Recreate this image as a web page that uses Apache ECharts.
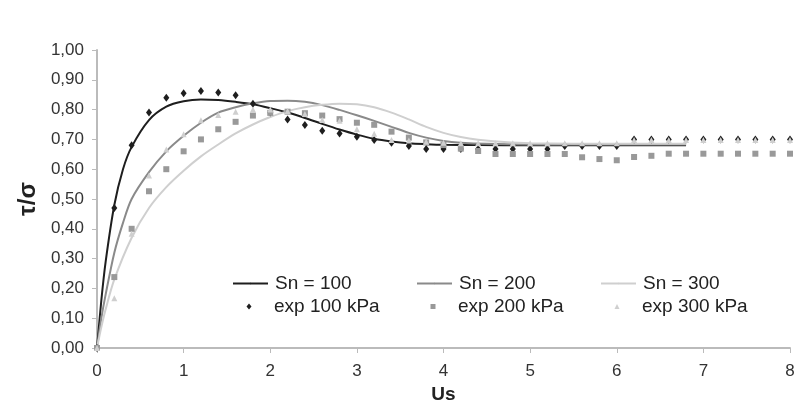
<!DOCTYPE html>
<html>
<head>
<meta charset="utf-8">
<script src="https://cdn.jsdelivr.net/npm/echarts@6/dist/echarts.min.js"></script>
<style>
  html, body { margin: 0; padding: 0; background: #fff; }
  #chart { width: 806px; height: 413px; }
</style>
</head>
<body>
<div id="chart"></div>
<script>
// experimental points, every 0.2 along Us
const expX = [0, 0.2, 0.4, 0.6, 0.8, 1.0, 1.2, 1.4, 1.6, 1.8, 2.0, 2.2, 2.4, 2.6, 2.8, 3.0, 3.2, 3.4, 3.6, 3.8,
  4.0, 4.2, 4.4, 4.6, 4.8, 5.0, 5.2, 5.4, 5.6, 5.8, 6.0, 6.2, 6.4, 6.6, 6.8, 7.0, 7.2, 7.4, 7.6, 7.8, 8.0];
const exp100 = [0, 0.47, 0.68, 0.79, 0.84, 0.855, 0.862, 0.857, 0.848, 0.82, 0.79, 0.767, 0.748, 0.729, 0.72, 0.709, 0.698, 0.689, 0.678, 0.668,
  0.668, 0.668, 0.668, 0.668, 0.668, 0.668, 0.668, 0.678, 0.678, 0.678, 0.678, 0.70, 0.70, 0.70, 0.70, 0.70, 0.70, 0.70, 0.70, 0.70, 0.70];
const exp200 = [0, 0.238, 0.40, 0.526, 0.60, 0.66, 0.70, 0.734, 0.759, 0.78, 0.789, 0.793, 0.788, 0.78, 0.768, 0.756, 0.749, 0.726, 0.706, 0.69,
  0.681, 0.669, 0.661, 0.651, 0.651, 0.651, 0.651, 0.651, 0.64, 0.634, 0.63, 0.641, 0.645, 0.652, 0.652, 0.652, 0.652, 0.652, 0.652, 0.652, 0.652];
const exp300 = [0, 0.167, 0.383, 0.579, 0.666, 0.717, 0.764, 0.782, 0.793, 0.80, 0.80, 0.795, 0.785, 0.765, 0.763, 0.734, 0.719, 0.698, 0.696, 0.692,
  0.689, 0.687, 0.687, 0.687, 0.687, 0.687, 0.687, 0.687, 0.687, 0.687, 0.687, 0.698, 0.698, 0.698, 0.698, 0.698, 0.698, 0.698, 0.698, 0.698, 0.698];

// model curves
const sn100X = [0, 0.05, 0.1, 0.2, 0.3, 0.4, 0.6, 0.8, 1.0, 1.2, 1.4, 1.6, 1.8, 2.0, 2.2, 2.4, 2.6, 2.8, 3.0, 3.2, 3.4, 3.6, 3.8, 4.0, 4.4, 5.0, 6.0, 6.8];
const sn100Y = [0, 0.16, 0.29, 0.48, 0.60, 0.675, 0.765, 0.81, 0.828, 0.834, 0.832, 0.826, 0.818, 0.805, 0.79, 0.772, 0.752, 0.733, 0.716, 0.702, 0.693, 0.687, 0.684, 0.682, 0.681, 0.68, 0.68, 0.68];
const sn200X = [0, 0.05, 0.1, 0.2, 0.3, 0.4, 0.6, 0.8, 1.0, 1.2, 1.4, 1.6, 1.8, 2.0, 2.2, 2.4, 2.6, 2.8, 3.0, 3.2, 3.4, 3.6, 3.8, 4.0, 4.2, 4.5, 5.0, 6.0, 6.8];
const sn200Y = [0, 0.10, 0.18, 0.32, 0.42, 0.50, 0.59, 0.66, 0.712, 0.756, 0.79, 0.808, 0.821, 0.829, 0.83, 0.826, 0.815, 0.799, 0.781, 0.762, 0.742, 0.722, 0.706, 0.695, 0.689, 0.685, 0.683, 0.683, 0.683];
const sn300X = [0, 0.05, 0.1, 0.2, 0.4, 0.6, 0.8, 1.0, 1.2, 1.4, 1.6, 1.8, 2.0, 2.2, 2.4, 2.6, 2.8, 3.0, 3.2, 3.4, 3.6, 3.8, 4.0, 4.2, 4.4, 4.7, 5.0, 6.0, 6.8];
const sn300Y = [0, 0.07, 0.13, 0.23, 0.37, 0.47, 0.54, 0.595, 0.643, 0.683, 0.72, 0.75, 0.775, 0.795, 0.808, 0.816, 0.82, 0.818, 0.808, 0.79, 0.767, 0.742, 0.722, 0.708, 0.699, 0.691, 0.687, 0.685, 0.685];

const xTicks = [0, 1, 2, 3, 4, 5, 6, 7, 8];
const yTicks = [0, 0.1, 0.2, 0.3, 0.4, 0.5, 0.6, 0.7, 0.8, 0.9, 1.0];

const FONT = '"Liberation Sans", Arial, sans-serif';

function pairs(xs, ys) {
  return xs.map((x, i) => [x, ys[i]]);
}

function lineSeries(name, xs, ys, color) {
  return {
    name: name,
    type: 'line',
    data: pairs(xs, ys),
    smooth: 0.3,
    showSymbol: false,
    symbol: 'none',
    lineStyle: { color: color, width: 2 },
    itemStyle: { color: color },
    z: 2
  };
}

function scatterSeries(name, ys, symbol, size, color) {
  return {
    name: name,
    type: 'scatter',
    data: pairs(expX, ys),
    symbol: symbol,
    symbolSize: size,
    itemStyle: { color: color, opacity: 1 },
    z: 3
  };
}

// line items: 35px sample line then text; marker items: small symbol centred under the line sample
function lineLegend(name, left, top) {
  return {
    data: [name],
    left: left,
    top: top,
    itemWidth: 35,
    itemHeight: 2,
    padding: 0,
    textStyle: { fontFamily: FONT, fontSize: 19, color: '#222', padding: [0, 0, 0, 2] },
    selectedMode: false
  };
}

function markLegend(name, left, top, w, h) {
  return {
    data: [name],
    left: left + 17 - w / 2,
    top: top,
    itemWidth: w,
    itemHeight: h,
    padding: 0,
    textStyle: { fontFamily: FONT, fontSize: 19, color: '#222', padding: [0, 0, 0, 20 - w / 2] },
    selectedMode: false
  };
}

let chart = echarts.init(document.getElementById('chart'));
chart.setOption({
  animation: false,
  backgroundColor: '#fff',
  grid: { left: 97, right: 16, top: 50, bottom: 65 },
  legend: [
    lineLegend('Sn = 100', 232, 274),
    lineLegend('Sn = 200', 416, 274),
    lineLegend('Sn = 300', 600, 274),
    markLegend('exp 100 kPa', 232, 297, 5, 6),
    markLegend('exp 200 kPa', 416, 297, 5, 5),
    markLegend('exp 300 kPa', 600, 297, 5, 5)
  ],
  xAxis: {
    type: 'value',
    min: xTicks[0],
    max: xTicks[xTicks.length - 1],
    interval: 1,
    name: 'Us',
    nameLocation: 'middle',
    nameGap: 36,
    nameTextStyle: { fontFamily: FONT, fontSize: 19, fontWeight: 'bold', color: '#222' },
    axisLine: { lineStyle: { color: '#bbb', width: 2 } },
    axisTick: { show: true, length: 5, lineStyle: { color: '#bbb' } },
    axisLabel: { fontFamily: FONT, fontSize: 17, color: '#333', margin: 15 },
    splitLine: { show: false }
  },
  yAxis: {
    type: 'value',
    min: yTicks[0],
    max: yTicks[yTicks.length - 1],
    interval: 0.1,
    name: 'τ/σ',
    nameLocation: 'middle',
    nameRotate: 90,
    nameGap: 56,
    nameTextStyle: { fontFamily: FONT, fontSize: 24, fontWeight: 'bold', color: '#222' },
    axisLine: { show: true, lineStyle: { color: '#bbb', width: 2 } },
    axisTick: { show: true, length: 5, lineStyle: { color: '#bbb' } },
    axisLabel: {
      fontFamily: FONT, fontSize: 17, color: '#333', margin: 13,
      formatter: v => v.toFixed(2).replace('.', ',')
    },
    splitLine: { show: false }
  },
  series: [
    lineSeries('Sn = 100', sn100X, sn100Y, '#1e1e1e'),
    lineSeries('Sn = 200', sn200X, sn200Y, '#8a8a8a'),
    lineSeries('Sn = 300', sn300X, sn300Y, '#cfcfcf'),
    scatterSeries('exp 100 kPa', exp100, 'diamond', [6, 8], '#1e1e1e'),
    scatterSeries('exp 200 kPa', exp200, 'rect', 6, '#999'),
    scatterSeries('exp 300 kPa', exp300, 'triangle', 6, '#cfcfcf')
  ]
});
window.addEventListener('resize', () => {
  chart.resize();
});
</script>
</body>
</html>
